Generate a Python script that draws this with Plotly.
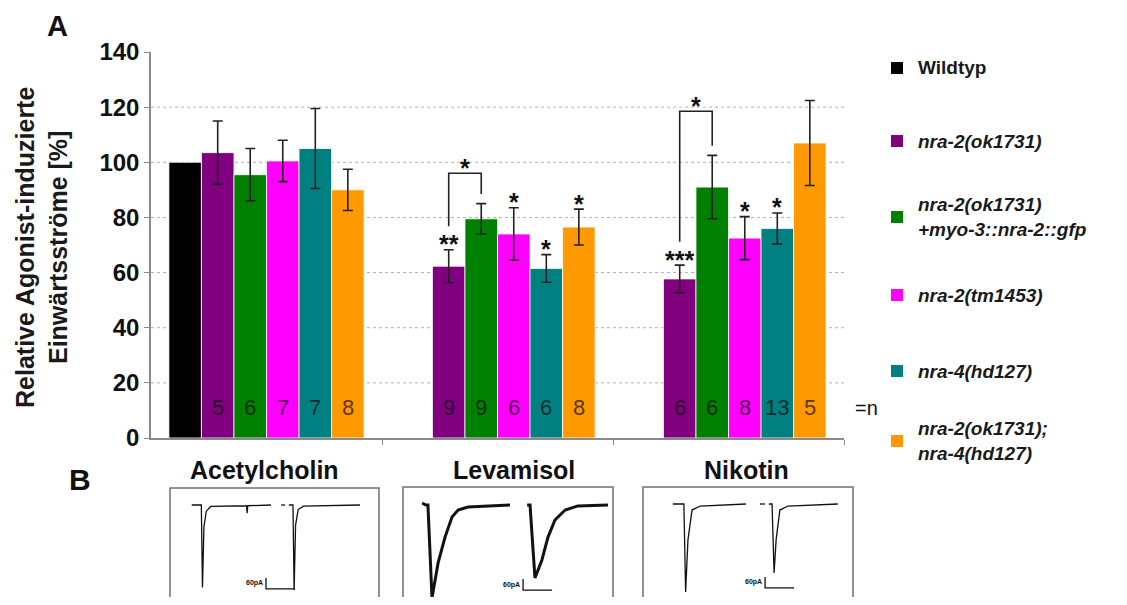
import plotly.graph_objects as go

# ---------------- data ----------------
categories = ["Acetylcholin", "Levamisol", "Nikotin"]
genotypes = ["Wildtyp", "nra-2(ok1731)", "nra-2(ok1731)<br>+myo-3::nra-2::gfp",
             "nra-2(tm1453)", "nra-4(hd127)", "nra-2(ok1731);<br>nra-4(hd127)"]

val_wildtyp = [100, None, None]
val_nra2_ok = [103.5, 62.3, 57.7]
val_rescue = [95.5, 79.5, 91.0]
val_nra2_tm = [100.5, 74.0, 72.5]
val_nra4 = [105.0, 61.5, 76.0]
val_double = [90.0, 76.5, 107.0]

err_wildtyp = [0, None, None]
err_nra2_ok = [11.5, 6.0, 5.0]
err_rescue = [9.5, 5.5, 11.5]
err_nra2_tm = [7.5, 9.5, 7.8]
err_nra4 = [14.5, 5.0, 5.6]
err_double = [7.5, 6.5, 15.4]

n_wildtyp = ["", "", ""]
n_nra2_ok = ["5", "9", "6"]
n_rescue = ["6", "9", "6"]
n_nra2_tm = ["7", "6", "8"]
n_nra4 = ["7", "6", "13"]
n_double = ["8", "8", "5"]

sig_wildtyp = ["", "", ""]
sig_nra2_ok = ["", "**", "***"]
sig_rescue = ["", "", ""]
sig_nra2_tm = ["", "*", "*"]
sig_nra4 = ["", "*", "*"]
sig_double = ["", "*", ""]

# bracket (ok1731 vs rescue) per category: top value or None
bracket_top = [None, 96.0, 118.5]
bracket_sig = ["", "*", "*"]

y_ticks = [0, 20, 40, 60, 80, 100, 120, 140]

# example current traces (time s, current pA)
ach1_t = [0.75, 1.08, 1.12, 1.17, 1.25, 1.40, 2.64, 2.66, 2.68, 3.48]
ach1_i = [0, 0, -450, -120, -35, -8, -4, -45, -4, 0]
ach2_t = [3.83, 3.97, None, 4.10, 4.24, 4.28, 4.33, 4.42, 4.60, 6.55]
ach2_i = [0, 0, None, 0, 0, -463, -110, -25, -6, 0]
lev1_t = [0.66, 0.79, 0.86, 1.00, 1.21, 1.45, 1.69, 1.90, 2.24, 3.69]
lev1_i = [11, 0, 0, -507, -316, -175, -65, -27, -11, 0]
lev2_t = [4.28, 4.38, 4.55, 4.79, 5.00, 5.24, 5.59, 6.03, 7.07]
lev2_i = [0, 0, -398, -300, -175, -82, -27, -5, 0]
nik1_t = [1.03, 1.41, 1.47, 1.55, 1.69, 1.97, 3.55]
nik1_i = [0, 0, -480, -196, -33, -11, 0]
nik2_t = [4.03, 4.21, None, 4.34, 4.45, 4.52, 4.59, 4.72, 5.00, 6.72]
nik2_i = [0, 0, None, 0, 0, -376, -196, -33, -11, 0]

scale_pA = 60
scale_s = 1

# ---------------- styling / layout ----------------
OFF = 8                      # default page margin around the figure
W, H = 1127 - 2 * OFF, 605 - 2 * OFF
def px(x): return (x - OFF) / W
def py(y): return 1 - (y - OFF) / H

colors = ["#000000", "#800080", "#008000", "#FF00FF", "#008080", "#FF9900"]
FONT = "Liberation Sans, Arial, sans-serif"
BARGAP = 0.155

series_vals = [val_wildtyp, val_nra2_ok, val_rescue, val_nra2_tm, val_nra4, val_double]
series_err = [err_wildtyp, err_nra2_ok, err_rescue, err_nra2_tm, err_nra4, err_double]
series_n = [n_wildtyp, n_nra2_ok, n_rescue, n_nra2_tm, n_nra4, n_double]
series_sig = [sig_wildtyp, sig_nra2_ok, sig_rescue, sig_nra2_tm, sig_nra4, sig_double]

cat_x = list(range(len(categories)))
ng = len(genotypes)
bw = (1 - BARGAP) / ng
def bar_x(ci, gi):
    return ci - (1 - BARGAP) / 2 + (gi + 0.5) * bw

fig = go.Figure()

for gi in range(ng):
    errs = [e if e is not None else 0 for e in series_err[gi]]
    fig.add_trace(go.Bar(
        x=cat_x, y=series_vals[gi], name=genotypes[gi],
        marker=dict(color=colors[gi], line=dict(color="white", width=0.8)),
        error_y=dict(type="data", array=errs, visible=gi > 0,
                     color="#222222", thickness=1.6, width=5),
        showlegend=False, xaxis="x", yaxis="y",
    ))

annotations = []
shapes = []

def ann(**kw):
    kw.setdefault("showarrow", False)
    kw.setdefault("xanchor", "center")
    kw.setdefault("yanchor", "middle")
    annotations.append(kw)

# n labels and significance stars
for gi in range(ng):
    for ci in range(len(categories)):
        v = series_vals[gi][ci]
        if v is None:
            continue
        if series_n[gi][ci]:
            ann(x=bar_x(ci, gi), y=11.2, xref="x", yref="y", text=series_n[gi][ci],
                font=dict(family=FONT, size=22, color="rgba(0,0,0,0.68)"))
        if series_sig[gi][ci]:
            top = v + (series_err[gi][ci] or 0)
            ann(x=bar_x(ci, gi), y=top + 4.2, xref="x", yref="y",
                text="<b>" + series_sig[gi][ci] + "</b>", yshift=-6,
                font=dict(family=FONT, size=25, color="#111111"))

# brackets
for ci in range(len(categories)):
    if bracket_top[ci] is None:
        continue
    x1, x2 = bar_x(ci, 1), bar_x(ci, 2)
    y_left = val_nra2_ok[ci] + err_nra2_ok[ci] + 8.5
    y_right = val_rescue[ci] + err_rescue[ci] + 3.5
    fig.add_trace(go.Scatter(x=[x1, x1, x2, x2], y=[y_left, bracket_top[ci], bracket_top[ci], y_right],
                             mode="lines", line=dict(color="#222222", width=1.6),
                             showlegend=False, hoverinfo="skip", xaxis="x", yaxis="y"))
    ann(x=(x1 + x2) / 2, y=bracket_top[ci] + 4, xref="x", yref="y",
        text="<b>" + bracket_sig[ci] + "</b>", yshift=-6,
        font=dict(family=FONT, size=25, color="#111111"))

# grid lines (dotted), excluding axis ends
for v in y_ticks[1:-1]:
    shapes.append(dict(type="line", xref="x domain", yref="y", x0=0, x1=1, y0=v, y1=v,
                       line=dict(color="#B0B0B0", width=1, dash="dot"), layer="below"))

# "=n"
ann(x=px(853), y=py(408), xref="paper", yref="paper", xanchor="left", text="=n",
    font=dict(family=FONT, size=20, color="#111111"))

# y title
ann(x=px(41), y=py(248), xref="paper", yref="paper", textangle=-90,
    text="<b>Relative Agonist-induzierte<br>Einwärtsströme [%]</b>",
    font=dict(family=FONT, size=25, color="#1a1a1a"))

# panel letters
ann(x=px(57), y=py(9), xref="paper", yref="paper", yanchor="top", borderpad=0,
    text="<b>A</b>", font=dict(family=FONT, size=29, color="#111111"))
ann(x=px(80), y=py(479), xref="paper", yref="paper", text="<b>B</b>",
    font=dict(family=FONT, size=30, color="#111111"))

# legend (manual)
legend_y = [68, 141, 217, 295, 371, 441]
for gi in range(ng):
    yc = legend_y[gi]
    shapes.append(dict(type="rect", xref="paper", yref="paper",
                       x0=px(891), x1=px(903), y0=py(yc + 6), y1=py(yc - 6),
                       fillcolor=colors[gi], line=dict(width=0)))
    lab = genotypes[gi]
    txt = "<b>" + lab + "</b>" if gi == 0 else "<b><i>" + lab + "</i></b>"
    ann(x=px(916), y=py(yc), xref="paper", yref="paper", xanchor="left", align="left",
        text=txt, font=dict(family=FONT, size=19, color="#1a1a1a"))

# ---------------- panel B insets ----------------
PX_PER_S = 29.0
PX_PER_PA = 11.0 / 60.0
insets = [
    dict(name="Acetylcholin", left=170, right=379, top=488, base=505, label_x=264,
         traces=[(ach1_t, ach1_i), (ach2_t, ach2_i)], lw=1.3, bar=(3.31, -458)),
    dict(name="Levamisol", left=403, right=613, top=487, base=505, label_x=514,
         traces=[(lev1_t, lev1_i), (lev2_t, lev2_i)], lw=3.0, bar=(4.14, -464)),
    dict(name="Nikotin", left=643, right=853, top=487, base=504, label_x=746,
         traces=[(nik1_t, nik1_i), (nik2_t, nik2_i)], lw=1.3, bar=(4.21, -458)),
]

layout_axes = {}
for k, ins in enumerate(insets):
    ax = k + 2
    xa, ya = "x%d" % ax, "y%d" % ax
    xr = [0, (ins["right"] - ins["left"]) / PX_PER_S]
    bottom_px = OFF + H
    yr = [-(bottom_px - ins["base"]) / PX_PER_PA, (ins["base"] - ins["top"]) / PX_PER_PA]
    layout_axes["xaxis%d" % ax] = dict(domain=[px(ins["left"]), px(ins["right"])], range=xr,
                                       visible=False, anchor=ya, fixedrange=True)
    layout_axes["yaxis%d" % ax] = dict(domain=[0, py(ins["top"])], range=yr,
                                       visible=False, anchor=xa, fixedrange=True)
    for (tt, ii) in ins["traces"]:
        fig.add_trace(go.Scatter(x=tt, y=ii, mode="lines", xaxis=xa, yaxis=ya,
                                 line=dict(color="#111111", width=ins["lw"]),
                                 showlegend=False, hoverinfo="skip", connectgaps=False))
    bx, by = ins["bar"]
    fig.add_trace(go.Scatter(x=[bx, bx, bx + scale_s], y=[by + scale_pA, by, by], mode="lines",
                             xaxis=xa, yaxis=ya, line=dict(color="#111111", width=1.3),
                             showlegend=False, hoverinfo="skip"))
    ann(x=bx - 0.05, y=by + 30, xref=xa, yref=ya, xanchor="right",
        text="<b>%dpA</b>" % scale_pA, font=dict(family=FONT, size=7, color="#111111"))
    ann(x=bx + 0.35, y=by - 50, xref=xa, yref=ya,
        text="<b>%ds</b>" % scale_s, font=dict(family=FONT, size=7, color="#111111"))
    # frame
    shapes.append(dict(type="rect", xref="paper", yref="paper",
                       x0=px(ins["left"]), x1=px(ins["right"]), y0=-0.1, y1=py(ins["top"]),
                       line=dict(color="#707070", width=1.5)))
    ann(x=px(ins["label_x"]), y=py(470), xref="paper", yref="paper",
        text="<b>" + ins["name"] + "</b>", font=dict(family=FONT, size=25, color="#111111"))

fig.update_layout(
    width=W, height=H,
    margin=dict(l=0, r=0, t=0, b=0, pad=0, autoexpand=False),
    paper_bgcolor="white", plot_bgcolor="white",
    barmode="group", bargap=BARGAP, bargroupgap=0,
    showlegend=False,
    xaxis=dict(domain=[px(151), px(844)], range=[-0.5, 2.5], showgrid=False, zeroline=False,
               showline=True, linecolor="#8a8a8a", linewidth=1.5,
               tickmode="array", tickvals=[0.5, 1.5, 2.5], showticklabels=False,
               ticks="outside", ticklen=5, tickcolor="#8a8a8a", anchor="y", fixedrange=True,
               automargin=False),
    yaxis=dict(domain=[py(438), py(52)], range=[0, 140], showgrid=False, zeroline=False,
               showline=True, linecolor="#8a8a8a", linewidth=1.5,
               tickmode="array", tickvals=y_ticks, ticks="outside", ticklen=5,
               tickcolor="#8a8a8a",
               tickfont=dict(family=FONT, size=24, color="#111111", weight="bold"),
               anchor="x", fixedrange=True, automargin=False),
    annotations=annotations,
    shapes=shapes,
    **layout_axes,
)

fig.write_html("out.html")
